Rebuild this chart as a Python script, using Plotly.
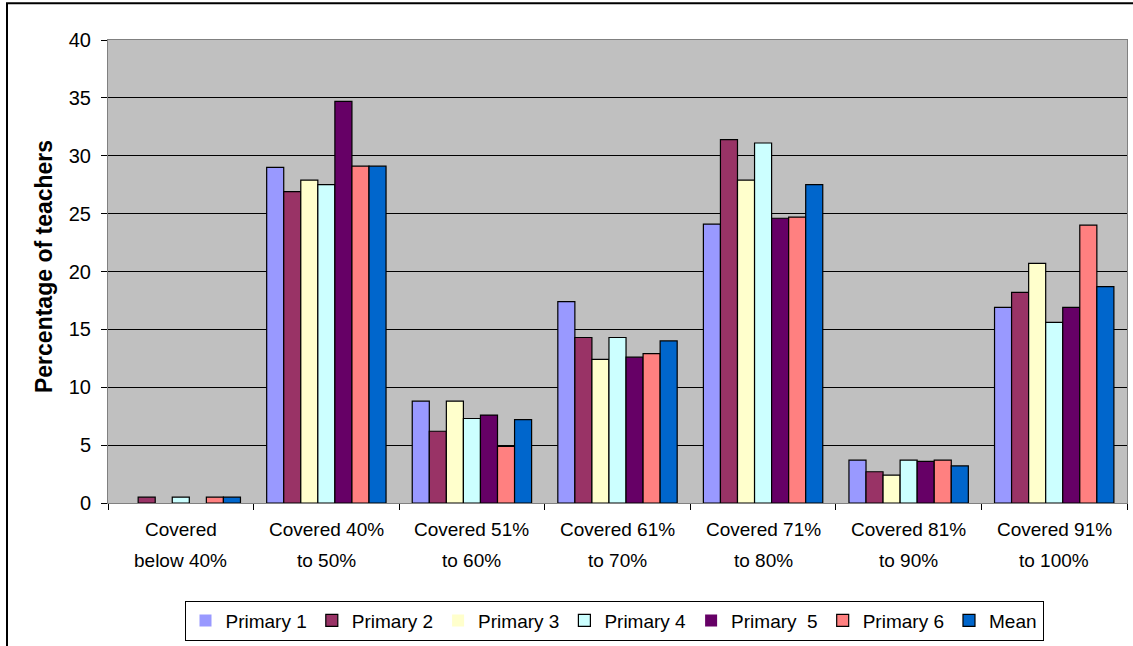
import plotly.graph_objects as go

# Coverage bands (category axis) and the share of teachers per grade
categories = [
    "Covered<br>below 40%",
    "Covered 40%<br>to 50%",
    "Covered 51%<br>to 60%",
    "Covered 61%<br>to 70%",
    "Covered 71%<br>to 80%",
    "Covered 81%<br>to 90%",
    "Covered 91%<br>to 100%",
]

primary_1 = [0.0, 29.0, 8.8, 17.4, 24.1, 3.7, 16.9]
primary_2 = [0.5, 26.9, 6.2, 14.3, 31.4, 2.7, 18.2]
primary_3 = [0.0, 27.9, 8.8, 12.4, 27.9, 2.4, 20.7]
primary_4 = [0.5, 27.5, 7.3, 14.3, 31.1, 3.7, 15.6]
primary_5 = [0.0, 34.7, 7.6, 12.6, 24.6, 3.6, 16.9]
primary_6 = [0.5, 29.1, 4.9, 12.9, 24.7, 3.7, 24.0]
mean_all = [0.5, 29.1, 7.2, 14.0, 27.5, 3.2, 18.7]

series_names = ["Primary 1", "Primary 2", "Primary 3", "Primary 4",
                "Primary  5", "Primary 6", "Mean"]
series_values = [primary_1, primary_2, primary_3, primary_4,
                 primary_5, primary_6, mean_all]
series_colors = ["#9999FF", "#993366", "#FFFFCC", "#CCFFFF",
                 "#660066", "#FF8080", "#0066CC"]

y_ticks = [0, 5, 10, 15, 20, 25, 30, 35, 40]

FONT = "Liberation Sans, Arial, sans-serif"

fig = go.Figure()
for name, vals, col in zip(series_names, series_values, series_colors):
    # empty bars get no outline so nothing is drawn for them
    widths = [1.2 if v > 0 else 0 for v in vals]
    fig.add_trace(go.Bar(
        name=name, x=categories, y=vals,
        marker=dict(color=col, line=dict(color="#000000", width=widths)),
        xaxis="x", yaxis="y",
    ))

# Invisible helper trace that carries the between-category tick marks
fig.add_trace(go.Scatter(x=[-0.5, 6.5], y=[0, 0], mode="none",
                         showlegend=False, hoverinfo="skip",
                         xaxis="x2", yaxis="y"))

W, H = 1133, 646
L, R, T, B = 108, 6, 40, 141
pw = W - L - R
ph = H - T - B

def px(x):
    return (x - L) / pw

def py(y):
    return (H - B - y) / ph

# Two-line category labels placed under each group
label_notes = []
for cat in categories:
    first, second = cat.split("<br>")
    label_notes.append(dict(text=first, xref="x", yref="paper", x=cat,
                            y=py(532), showarrow=False,
                            xanchor="center", yanchor="middle",
                            font=dict(size=19, family=FONT)))
    label_notes.append(dict(text=second, xref="x", yref="paper", x=cat,
                            y=py(563), showarrow=False,
                            xanchor="center", yanchor="middle",
                            font=dict(size=19, family=FONT)))

fig.update_layout(
    width=W, height=H,
    margin=dict(l=L, r=R, t=T, b=B),
    paper_bgcolor="#FFFFFF",
    plot_bgcolor="#C0C0C0",
    barmode="group",
    bargap=0.18,
    bargroupgap=0.0,
    font=dict(family=FONT, color="#000000", size=19),
    xaxis=dict(
        type="category",
        showline=True, linecolor="#808080", linewidth=1, mirror=True,
        ticks="", showgrid=False, showticklabels=False,
    ),
    xaxis2=dict(
        overlaying="x", range=[-0.5, 6.5],
        tickvals=[-0.5, 0.5, 1.5, 2.5, 3.5, 4.5, 5.5, 6.5],
        ticks="outside", ticklen=6, tickcolor="#000000", tickwidth=1,
        showticklabels=False, showgrid=False, zeroline=False,
        showline=False, side="bottom", anchor="y",
    ),
    yaxis=dict(
        range=[0, 40], tickvals=y_ticks,
        showgrid=True, gridcolor="#000000", gridwidth=1,
        showline=True, linecolor="#808080", linewidth=1, mirror=True,
        ticks="outside", ticklen=6, tickcolor="#000000",
        tickfont=dict(size=20, family=FONT),
        ticklabelstandoff=6,
        zeroline=True, zerolinecolor="#000000", zerolinewidth=1,
    ),
    legend=dict(
        orientation="h",
        x=px(614), xanchor="center",
        y=py(603), yanchor="top",
        bgcolor="#FFFFFF", bordercolor="#000000", borderwidth=1,
        font=dict(size=19, family=FONT),
        itemwidth=30,
        tracegroupgap=0,
    ),
    annotations=[dict(
        text="<b>Percentage of teachers</b>",
        xref="paper", yref="paper",
        x=px(44), y=py(268), textangle=-90,
        showarrow=False, font=dict(size=23, family=FONT),
        xanchor="center", yanchor="middle",
    )] + label_notes,
    shapes=[dict(
        type="rect", xref="paper", yref="paper",
        x0=px(7), x1=px(1160), y0=py(680), y1=py(3),
        line=dict(color="#000000", width=2), fillcolor="rgba(0,0,0,0)",
        layer="below",
    )],
    showlegend=True,
)

fig.write_html("out.html")
